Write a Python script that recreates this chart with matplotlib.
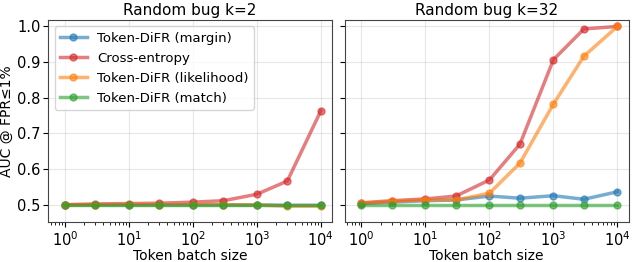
import numpy as np
import matplotlib.pyplot as plt

# token batch sizes
batch = [1, 3, 10, 30, 100, 300, 1000, 3000, 10000]

# Random bug k=2
k2_margin = [0.500, 0.500, 0.500, 0.500, 0.500, 0.500, 0.500, 0.499, 0.499]
k2_ce = [0.501, 0.503, 0.504, 0.505, 0.508, 0.512, 0.530, 0.567, 0.763]
k2_lik = [0.500, 0.501, 0.501, 0.501, 0.501, 0.501, 0.500, 0.497, 0.497]
k2_match = [0.500, 0.500, 0.500, 0.500, 0.500, 0.500, 0.500, 0.500, 0.500]

# Random bug k=32
k32_margin = [0.504, 0.508, 0.512, 0.514, 0.525, 0.519, 0.526, 0.516, 0.537]
k32_ce = [0.506, 0.512, 0.517, 0.525, 0.570, 0.670, 0.906, 0.992, 0.999]
k32_lik = [0.505, 0.510, 0.514, 0.514, 0.533, 0.617, 0.782, 0.916, 0.999]
k32_match = [0.500, 0.500, 0.500, 0.500, 0.500, 0.500, 0.500, 0.500, 0.500]

labels = ['Token-DiFR (margin)', 'Cross-entropy', 'Token-DiFR (likelihood)', 'Token-DiFR (match)']
colors = ['tab:blue', 'tab:red', 'tab:orange', 'tab:green']
titles = ['Random bug k=2', 'Random bug k=32']
panels = [[k2_margin, k2_ce, k2_lik, k2_match],
          [k32_margin, k32_ce, k32_lik, k32_match]]

plt.rcParams['font.size'] = 10
fig, axes = plt.subplots(1, 2, figsize=(6.35, 2.62), dpi=100, sharey=True)
fig.subplots_adjust(left=0.076, right=0.99, top=0.925, bottom=0.152, wspace=0.045)

for ax, title, series in zip(axes, titles, panels):
    for ys, lab, c in zip(series, labels, colors):
        ax.plot(batch, ys, '-o', color=c, lw=2.5, ms=5, alpha=0.6, label=lab)
    ax.set_xscale('log')
    ax.set_title(title, fontsize=11, pad=3)
    ax.set_xlabel('Token batch size', labelpad=0)
    ax.grid(True, alpha=0.3)
    ax.set_ylim(0.452, 1.018)
    ax.set_xlim(0.55, 15000)
    ax.tick_params(axis='both', which='major', labelsize=10.5, pad=2)
    for s in ax.spines.values():
        s.set_color('#444444')

axes[0].set_ylabel('AUC @ FPR≤1%', labelpad=2)
axes[0].set_yticks([0.5, 0.6, 0.7, 0.8, 0.9, 1.0])
axes[0].legend(loc='upper left', fontsize=9.5, handlelength=2.0, borderpad=0.4, labelspacing=0.53)

fig.savefig('out.png')
